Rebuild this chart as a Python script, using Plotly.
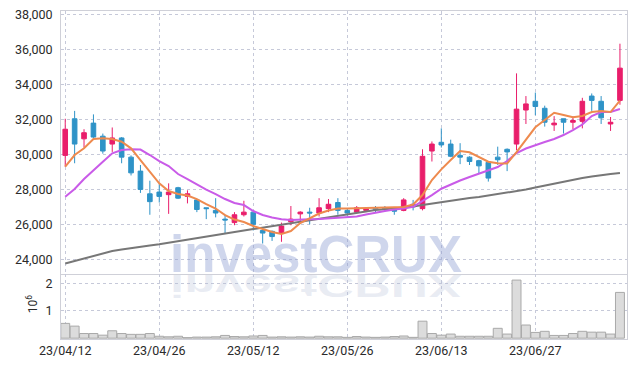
import plotly.graph_objects as go

dates = ["23/04/12","23/04/13","23/04/14","23/04/17","23/04/18","23/04/19","23/04/20","23/04/21","23/04/24","23/04/25",
         "23/04/26","23/04/27","23/04/28","23/05/02","23/05/03","23/05/04","23/05/08","23/05/09","23/05/10","23/05/11",
         "23/05/12","23/05/15","23/05/16","23/05/17","23/05/18","23/05/19","23/05/22","23/05/23","23/05/24","23/05/25",
         "23/05/26","23/05/30","23/05/31","23/06/01","23/06/02","23/06/05","23/06/07","23/06/08","23/06/09","23/06/12",
         "23/06/13","23/06/14","23/06/15","23/06/16","23/06/19","23/06/20","23/06/21","23/06/22","23/06/23","23/06/26",
         "23/06/27","23/06/28","23/06/29","23/06/30","23/07/03","23/07/04","23/07/05","23/07/06","23/07/07","23/07/10"]

open_ = [29950,32050,30900,31800,31050,30600,30950,29850,29050,27750,
         27850,27700,28100,27600,27400,26950,26800,26300,26100,26550,
         26700,25650,25600,25500,26150,26600,26700,26650,26900,27250,
         26800,26700,26800,26950,26950,26900,26800,27150,26900,30200,
         30700,30600,29950,29850,29650,29550,29850,30300,30600,32550,
         33050,32650,31700,32050,31850,31900,33350,33050,31750,33100]
high = [32050,32500,31450,32300,31200,31550,31000,29950,29400,28500,
        28350,28350,28150,27950,27450,26950,27500,26550,26700,27350,
        26700,25750,25650,26100,27050,26750,26950,27500,27450,27500,
        26900,27050,26950,27050,27050,26950,27500,27400,30300,30750,
        31500,30850,30650,29900,29700,29600,30450,30350,34650,33350,
        33550,32800,32200,32050,32200,33250,33500,33350,32150,36350]
low = [29300,29500,30400,30950,30050,30150,29500,28800,27800,26550,
       27250,26600,27450,27200,26700,26300,26400,25500,25950,26450,
       25650,24900,25050,25000,25950,26050,26000,26450,26700,26550,
       26500,26650,26700,26700,26750,26550,26750,26800,26800,29600,
       30400,29850,29450,29400,28900,28450,29400,29050,30250,31750,
       32250,31600,31350,31200,31450,31500,32500,31750,31350,32850]
close = [31450,30600,31250,31000,30200,30950,29850,28950,28000,27300,
         27600,27850,27500,27750,26850,26900,26650,26250,26550,26700,
         26000,25500,25300,25900,26300,26700,26650,26950,27150,26800,
         26650,26950,26900,26850,26900,26750,27400,27000,29900,30600,
         30550,29900,29850,29600,29350,28650,29700,30150,32600,32900,
         32750,31850,31800,31850,31950,33050,33100,32100,31850,34950]

ma5 = [29301,29971,30355,30888,30928,30888,30733,30355,29685,29014,
       28350,27909,27737,27651,27450,27164,26906,26533,26275,26132,
       25903,25731,25559,25445,25617,26075,26361,26619,26791,26906,
       26906,26917,26934,26917,26934,26952,26992,27135,27679,28539,
       29152,29685,30201,30126,29874,29587,29496,29484,30143,30860,
       31559,31977,32395,32263,32132,32206,32435,32493,32435,33083]
ma20 = [27582,28023,28596,29112,29587,30069,30258,30298,30287,29971,
        29628,29341,28883,28596,28281,27994,27737,27450,27221,27106,
        26763,26533,26390,26287,26247,26247,26287,26304,26333,26361,
        26390,26447,26562,26677,26763,26848,26906,27009,27336,27679,
        28040,28281,28510,28711,28911,29083,29284,29628,30086,30344,
        30544,30716,30888,31117,31404,31719,32206,32435,32435,32607]
ma120 = [23754,23898,24069,24213,24356,24471,24556,24642,24700,24786,
         24854,24946,25032,25129,25227,25301,25387,25473,25559,25645,
         25731,25817,25903,25989,26075,26161,26247,26333,26419,26505,
         26591,26677,26763,26820,26866,26906,26963,27020,27106,27192,
         27278,27364,27450,27507,27565,27651,27737,27794,27880,27994,
         28109,28224,28310,28424,28539,28653,28739,28825,28883,28940]

volume = [540000,440000,170000,170000,110000,270000,170000,140000,140000,170000,
          70000,50000,70000,20000,40000,40000,50000,100000,60000,50000,
          80000,100000,40000,50000,40000,50000,40000,70000,50000,50000,
          30000,60000,40000,30000,40000,60000,80000,30000,620000,170000,
          110000,150000,70000,70000,70000,70000,360000,150000,2120000,480000,
          210000,250000,100000,100000,170000,250000,220000,220000,150000,1670000]

price_ticks = [24000, 26000, 28000, 30000, 32000, 34000, 36000, 38000]
vol_ticks = [1000000, 2000000]
vol_ticktext = ["1", "2"]
date_ticks = [dates[i] for i in range(0, 60, 10)]

UP = "#e91e6b"
DOWN = "#2f93c7"
GRID = "#c6c9d9"
AXLINE = "#cfd0d8"
TICKFONT = dict(family="Roboto", size=12.5, color="#2a2a2a")

fig = go.Figure()

fig.add_trace(go.Bar(
    x=dates, y=volume, xaxis="x2", yaxis="y2",
    marker=dict(color="#dcdcdc", line=dict(color="#a9a9a9", width=1)),
    showlegend=False, hoverinfo="y"))

fig.add_trace(go.Scatter(x=dates, y=ma120, mode="lines",
                         line=dict(color="#777777", width=2), showlegend=False))
fig.add_trace(go.Scatter(x=dates, y=ma20, mode="lines",
                         line=dict(color="#c95be8", width=2), showlegend=False))
fig.add_trace(go.Scatter(x=dates, y=ma5, mode="lines",
                         line=dict(color="#ee8a4e", width=2), showlegend=False))

fig.add_trace(go.Candlestick(
    x=dates, open=open_, high=high, low=low, close=close,
    increasing=dict(line=dict(color=UP, width=1), fillcolor=UP),
    decreasing=dict(line=dict(color=DOWN, width=1), fillcolor=DOWN),
    whiskerwidth=0, showlegend=False))

xr = [-0.45, 59.75]
fig.update_layout(
    width=634, height=368,
    margin=dict(l=61, r=7, t=11, b=29),
    paper_bgcolor="white", plot_bgcolor="white",
    bargap=0.05,
    xaxis=dict(type="category", domain=[0, 1], anchor="y", range=xr, automargin=False,
               matches="x2", showticklabels=False,
               tickvals=date_ticks, showgrid=True, gridcolor=GRID, griddash="dot", gridwidth=1,
               showline=True, mirror=True, linecolor=AXLINE, linewidth=1,
               rangeslider=dict(visible=False), zeroline=False),
    yaxis=dict(domain=[0.198, 1], anchor="x", range=[23152, 38223], automargin=False,
               tickvals=price_ticks, tickformat=",d",
               showgrid=True, gridcolor=GRID, griddash="dot", gridwidth=1,
               showline=True, mirror=True, linecolor=AXLINE, linewidth=1,
               tickfont=TICKFONT, ticklabelstandoff=5, zeroline=False),
    xaxis2=dict(type="category", domain=[0, 1], anchor="y2", range=xr, automargin=False,
                tickvals=date_ticks, ticktext=date_ticks,
                showgrid=True, gridcolor=GRID, griddash="dot", gridwidth=1,
                showline=True, linecolor=AXLINE, linewidth=1,
                tickfont=TICKFONT, zeroline=False),
    yaxis2=dict(domain=[0, 0.198], anchor="x2", range=[-30000, 2340000], automargin=False,
                tickvals=vol_ticks, ticktext=vol_ticktext,
                showgrid=True, gridcolor=GRID, griddash="dot", gridwidth=1,
                showline=True, mirror=True, linecolor=AXLINE, linewidth=1,
                tickfont=TICKFONT, ticklabelstandoff=5, zeroline=False),
    annotations=[
        dict(text="investCRUX", xref="paper", yref="paper", x=0.4505, y=0.166,
             xanchor="center", yanchor="bottom", showarrow=False,
             font=dict(family="Liberation Sans", size=51, color="rgba(140,158,210,0.42)", weight="bold")),
        dict(text="investCRUX", xref="paper", yref="paper", x=0.4505, y=0.206,
             xanchor="center", yanchor="bottom", showarrow=False,
             font=dict(family="Liberation Sans", size=51, color="rgba(180,188,215,0.28)", weight="bold")),
        dict(text="10<sup>6</sup>", xref="paper", yref="paper", x=-0.052, y=0.108,
             xanchor="center", yanchor="middle", showarrow=False, textangle=-90,
             font=dict(family="Roboto", size=12, color="#2a2a2a")),
    ],
)

post = """
(function(){
  document.body.style.margin = '0';
  document.body.style.padding = '0';
  var gd = document.getElementById('{plot_id}');
  function flip(){
    var t = gd.querySelector('g.annotation[data-index="1"] text.annotation-text');
    if (t) {
      t.style.transformBox = 'fill-box';
      t.style.transformOrigin = '50% 100%';
      t.style.transform = 'scaleY(-0.6)';
    }
  }
  flip();
  setTimeout(flip, 30);
  if (gd.on) gd.on('plotly_afterplot', flip);
})();
"""

fig.write_html("out.html", post_script=post, config={"displayModeBar": False})
